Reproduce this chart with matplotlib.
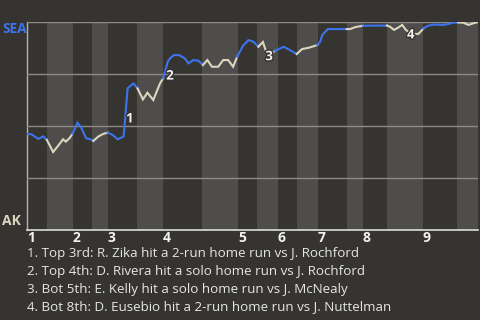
import numpy as np
import matplotlib.pyplot as plt
import matplotlib.patheffects as pe

plt.rcParams['font.family'] = ['Open Sans', 'DejaVu Sans']

# game progress (% of plays) and SEA win probability (%)
progress = [0.0, 1.0, 2.5, 3.6, 4.4, 5.8, 6.9, 8.0, 8.6, 9.4,
            10.1, 11.2, 12.1, 13.1, 14.1, 14.7, 15.8, 16.9, 17.9, 19.0,
            20.1, 21.4, 21.6, 22.3, 23.6, 24.5, 25.7, 26.7, 28.0, 29.5,
            30.2, 31.2, 31.7, 32.6, 33.7, 35.0, 35.8, 36.9, 38.0, 39.0,
            40.0, 41.0, 42.4, 43.5, 44.6, 45.7, 46.6, 47.9, 49.1, 50.2,
            51.3, 52.3, 53.1, 53.9, 55.0, 56.9, 58.3, 59.8, 61.0, 62.4,
            64.4, 65.0, 65.5, 66.7, 70.9, 71.6, 72.9, 74.5, 79.8, 80.5,
            81.4, 82.3, 83.2, 84.0, 85.4, 86.8, 87.9, 88.8, 90.2, 92.2,
            93.4, 94.5, 95.6, 96.7, 97.9, 99.0, 100.0]
sea_wp = [46.2, 46.0, 43.8, 45.0, 43.3, 37.5, 40.5, 43.6, 42.5, 44.1,
          46.2, 51.6, 48.9, 44.1, 43.6, 42.8, 44.9, 46.2, 46.8, 45.7,
          43.6, 44.9, 49.0, 68.1, 70.5, 68.1, 62.8, 66.0, 62.5, 70.5,
          72.9, 80.9, 82.5, 84.1, 84.1, 82.5, 80.1, 81.7, 81.4, 79.3,
          81.7, 78.5, 78.5, 81.7, 81.7, 78.5, 83.3, 88.6, 91.3, 90.5,
          88.1, 90.4, 85.3, 84.6, 86.1, 88.1, 86.5, 84.6, 87.0, 87.6,
          88.9, 90.5, 93.8, 96.6, 96.6, 96.6, 97.6, 98.2, 98.3, 97.7,
          96.2, 97.3, 98.6, 96.2, 94.2, 94.3, 96.8, 98.1, 98.8, 98.6,
          99.0, 99.7, 99.8, 99.7, 98.6, 99.4, 100.0]

# where each half inning starts (top 1st, bot 1st, top 2nd, ...)
half_starts = [0.0, 4.43, 10.2, 14.41, 17.96, 24.39, 30.16, 38.8, 46.78,
               51.0, 55.65, 59.87, 64.52, 70.95, 74.5, 79.82, 87.8, 95.34]
game_end = 100.0
inning_labels = ['1', '2', '3', '4', '5', '6', '7', '8', '9']

# scoring play markers
scoring_labels = ['1', '2', '3', '4']
scoring_x = [22.8, 31.7, 53.7, 85.1]
scoring_y = [53.4, 74.0, 83.3, 93.75]

plays = [
    "1. Top 3rd: R. Zika hit a 2-run home run vs J. Rochford",
    "2. Top 4th: D. Rivera hit a solo home run vs J. Rochford",
    "3. Bot 5th: E. Kelly hit a solo home run vs J. McNealy",
    "4. Bot 8th: D. Eusebio hit a 2-run home run vs J. Nuttelman",
]

bg = '#363430'
band = '#4e4d4b'
sea_color = '#3b74ee'
ak_color = '#ddd6bf'
text_color = '#e6e6e6'

fig = plt.figure(figsize=(4.8, 3.2), dpi=100, facecolor=bg)
ax = fig.add_axes([27 / 480, 90 / 320, 451 / 480, 208 / 320])
ax.set_facecolor(bg)

# bottom halves get the lighter band
edges = half_starts + [game_end]
for i in range(1, len(half_starts), 2):
    ax.axvspan(edges[i], edges[i + 1], color=band, lw=0, zorder=0)

# line segments coloured by batting team
x = np.array(progress)
y = np.array(sea_wp) / 100
mid = (x[:-1] + x[1:]) / 2
half_idx = np.searchsorted(half_starts, mid, side='right') - 1
start = 0
for k in range(1, len(mid) + 1):
    if k == len(mid) or half_idx[k] != half_idx[start]:
        color = sea_color if half_idx[start] % 2 == 0 else ak_color
        ax.plot(x[start:k + 1], y[start:k + 1], color=color, lw=1.5,
                solid_joinstyle='miter', zorder=3)
        start = k

for lab, sx, sy in zip(scoring_labels, scoring_x, scoring_y):
    ax.text(sx, sy / 100, lab, color='#f2f2f2', fontsize=9.5, fontweight='bold',
            ha='center', va='center', zorder=4,
            path_effects=[pe.withStroke(linewidth=2, foreground=bg)])

ax.set_xlim(0, game_end)
ax.set_ylim(0, 1)
ax.set_yticks([0.25, 0.5, 0.75, 1.0])
ax.yaxis.grid(True, color='#8c8b88', lw=1)
ax.set_axisbelow(False)
for line in ax.get_ygridlines():
    line.set_zorder(1)
ax.tick_params(axis='y', length=0, labelleft=False)

ax.set_xticks(half_starts[::2])
ax.set_xticklabels(inning_labels, ha='left', fontweight='bold',
                   color='#f2f2f2', fontsize=10)
ax.tick_params(axis='x', length=0, pad=0.5)

for s in ['top', 'right']:
    ax.spines[s].set_visible(False)
ax.spines['left'].set_color('#b5b3ae')
ax.spines['left'].set_linewidth(1)
ax.spines['bottom'].set_color('#dcdcdc')
ax.spines['bottom'].set_linewidth(1.2)

fig.text(2 / 480, 1 - 22 / 320, 'SEA', color=sea_color, fontsize=9.8,
         fontweight='bold', ha='left', va='top')
fig.text(2 / 480, 1 - 228 / 320, 'AK', color=ak_color, fontsize=10,
         fontweight='bold', ha='left', va='bottom')

for i, txt in enumerate(plays):
    fig.text(27 / 480, 1 - (254 + 17.6 * i) / 320, txt, color=text_color,
             fontsize=9.65, ha='left', va='center')

fig.savefig('out.png', dpi=100, facecolor=bg)
